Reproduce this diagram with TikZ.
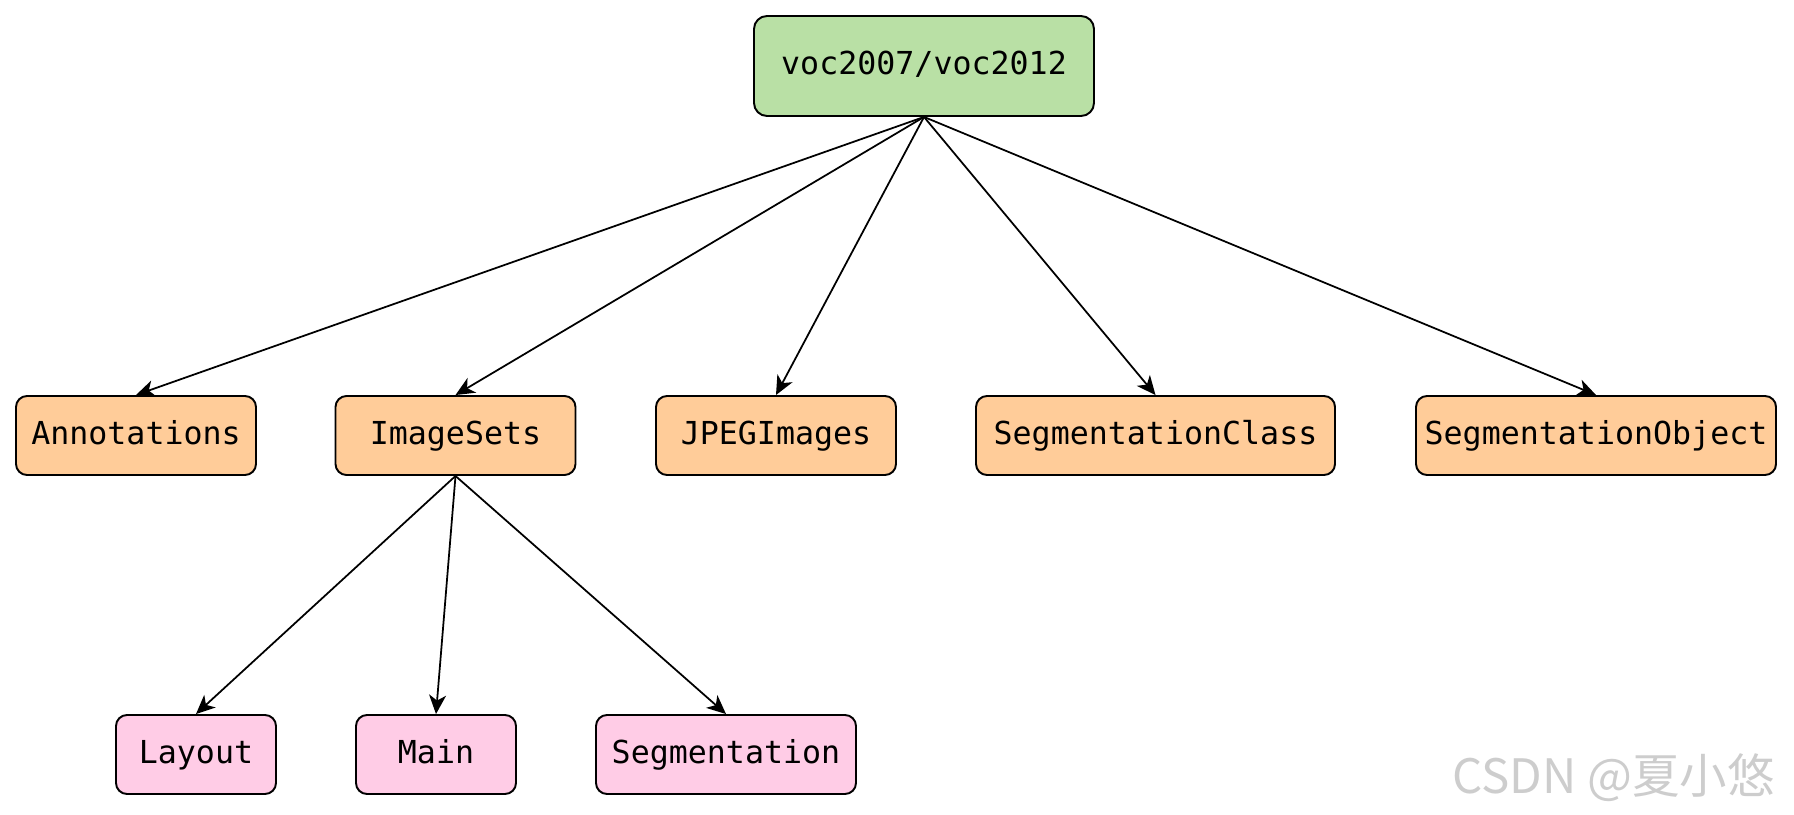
\documentclass[tikz,border=0pt]{standalone}
\usepackage{fontspec}
\setmonofont{DejaVu Sans Mono}
\newfontfamily\cjk{Noto Sans CJK SC}
\usepackage{xcolor}
\usetikzlibrary{arrows.meta}
\definecolor{rootgreen}{HTML}{B9E0A5}
\definecolor{dirorange}{HTML}{FFCC99}
\definecolor{subpink}{HTML}{FFCCE6}
\definecolor{markgray}{HTML}{CDCDCD}
\tikzset{
  folder/.style={draw, line width=1.1pt, rounded corners=0.22cm, inner sep=0pt,
    font=\ttfamily\fontsize{18}{22}\selectfont, minimum height=1.58cm,
    text height=1.1em, text depth=0.1em},
  link/.style={line width=1pt, -{Stealth[length=0.38cm, width=0.34cm, inset=0.11cm]}}
}
\begin{document}
\begin{tikzpicture}
\useasboundingbox (0, 0) rectangle (35.88, 16.28);
% root folder
\node[folder, fill=rootgreen, minimum width=6.8cm, minimum height=2cm, rounded corners=0.26cm] (voc) at (18.48, 14.96) {voc2007/voc2012};
% first level
\node[folder, fill=dirorange, minimum width=4.8cm] (ann) at (2.72, 7.57) {Annotations};
\node[folder, fill=dirorange, minimum width=4.8cm] (sets) at (9.11, 7.57) {ImageSets};
\node[folder, fill=dirorange, minimum width=4.8cm] (jpeg) at (15.52, 7.57) {JPEGImages};
\node[folder, fill=dirorange, minimum width=7.18cm] (segcls) at (23.11, 7.57) {SegmentationClass};
\node[folder, fill=dirorange, minimum width=7.2cm] (segobj) at (31.92, 7.57) {SegmentationObject};
% second level
\node[folder, fill=subpink, minimum width=3.2cm] (layout) at (3.92, 1.19) {Layout};
\node[folder, fill=subpink, minimum width=3.2cm] (main) at (8.72, 1.19) {Main};
\node[folder, fill=subpink, minimum width=5.2cm] (seg) at (14.52, 1.19) {Segmentation};
\foreach \t in {ann, sets, jpeg, segcls, segobj}
  \draw[link] (voc.south) -- (\t.north);
\foreach \t in {layout, main, seg}
  \draw[link] (sets.south) -- (\t.north);
\node[font=\cjk\fontsize{27}{31}\selectfont, text=markgray, inner sep=0pt] (mark) at (32.27, 0.72) {CSDN @夏小悠};
\end{tikzpicture}
\end{document}
